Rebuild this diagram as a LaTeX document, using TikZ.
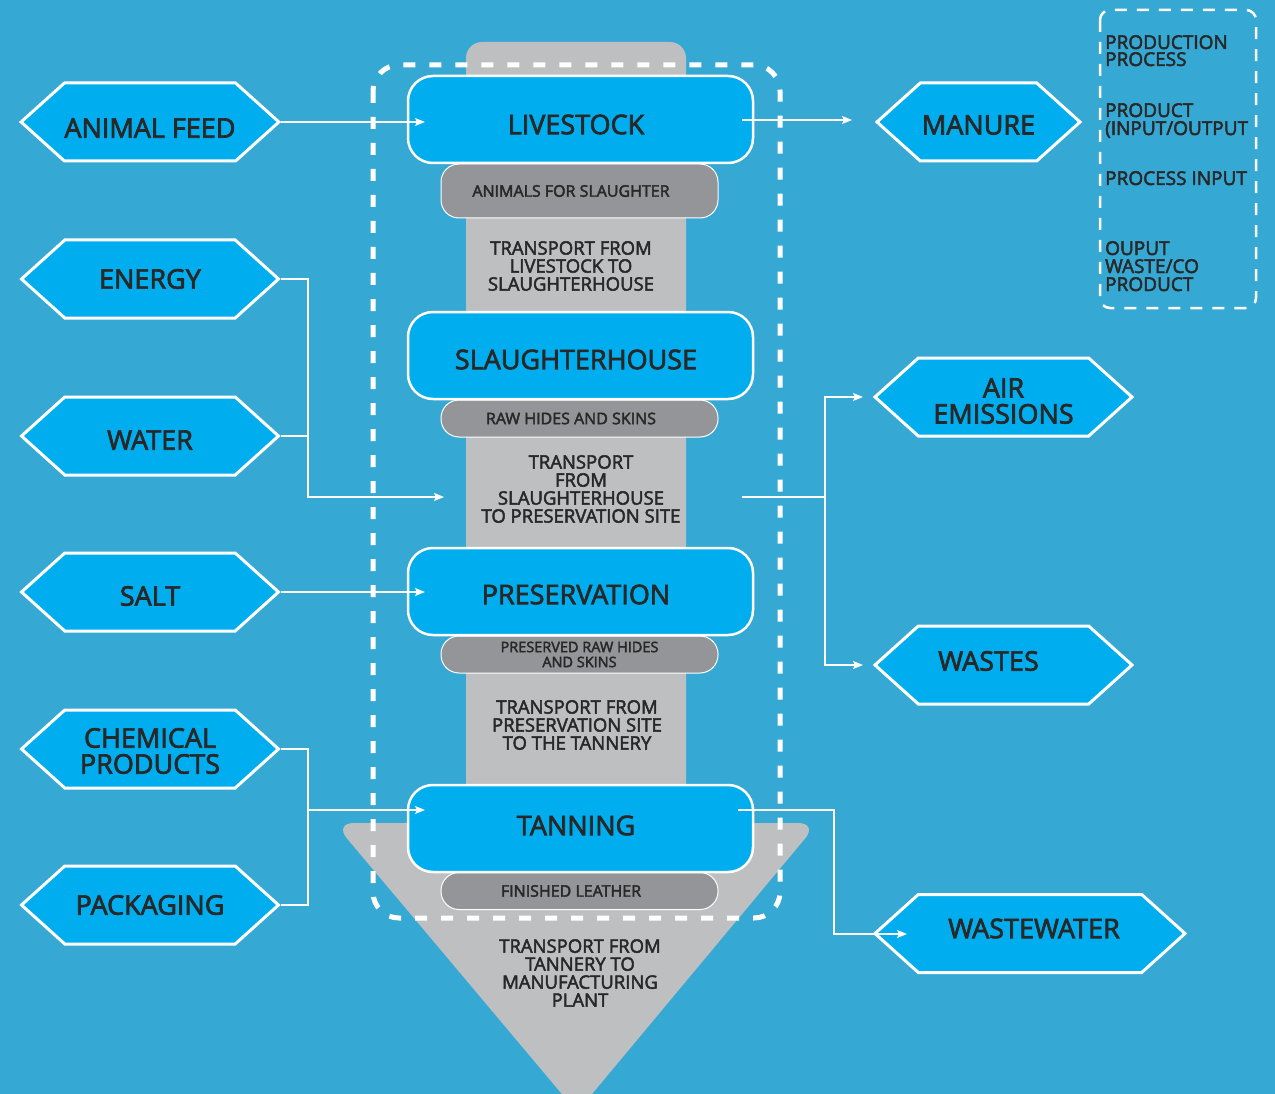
\documentclass[tikz,border=0pt]{standalone}
\usepackage{fontspec}
\setmainfont{Open Sans}
\newfontfamily\semi{Open Sans}[FakeBold=2.6]
\usetikzlibrary{shapes.symbols,arrows.meta}

\definecolor{bgblue}{RGB}{54,168,212}
\definecolor{procblue}{RGB}{0,174,239}
\definecolor{colgray}{RGB}{190,191,193}
\definecolor{pillgray}{RGB}{147,149,152}
\definecolor{ink}{RGB}{40,40,40}

\newcommand{\fs}[2]{\semi\fontsize{#1}{#2}\selectfont}
% lower a label by #1 without changing the size of its box
\newcommand{\dn}[2]{\raisebox{-#1pt}[\height][\depth]{#2}}

\tikzset{
  procbox/.style={draw=white, line width=2.5pt, fill=procblue, rounded corners=25pt,
    minimum width=345pt, minimum height=87pt, text=ink, font=\fs{27}{27}, inner sep=0pt},
  pill/.style={draw=white, line width=1pt, fill=pillgray, rounded corners=18pt,
    minimum width=277pt, text=ink, inner sep=0pt, align=center},
  hexbox/.style={shape=signal, signal to=west and east, signal pointer angle=84,
    draw=white, line width=3pt, fill=procblue, text=ink, font=\fs{27}{26},
    minimum height=78pt, inner sep=0pt, align=center},
  transport/.style={text=ink, font=\fs{18.5}{18}, align=center, inner sep=0pt},
  legendtxt/.style={text=ink, font=\fs{19}{18}, anchor=base west, inner sep=0pt},
  link/.style={draw=white, line width=1.2pt},
  conn/.style={link, -{Stealth[length=10pt, width=8pt, inset=2pt]}},
}

\begin{document}
\begin{tikzpicture}[x=1pt, y=-1pt]
\useasboundingbox (0,0) rectangle (1275,1094);
\fill[bgblue] (0,0) rectangle (1275,1094);

\begin{scope}
\clip (0,0) rectangle (1275,1094);
% grey flow column and the closing arrow head
\fill[colgray, rounded corners=16pt] (466,850) -- (466,42) -- (686,42) -- (686,850) -- cycle;
\fill[colgray, rounded corners=20pt] (334,823) -- (818,823) -- (577,1112) -- cycle;
\end{scope}

% production process frame
\draw[white, line width=5pt, dash pattern=on 12pt off 14pt, rounded corners=26pt]
  (373,65) rectangle (780,918);

% products between processes
\node[pill, minimum height=54pt, font=\fs{16}{16}] (p1) at (579.5,191) {ANIMALS FOR SLAUGHTER\hspace{17pt}};
\node[pill, minimum height=37pt, font=\fs{16}{16}] (p2) at (579.5,418.5) {RAW HIDES AND SKINS\hspace{17pt}};
\node[pill, minimum height=37pt, font=\fs{14.5}{15}] (p3) at (579.5,654.5) {PRESERVED RAW HIDES\hspace{17pt}\\AND SKINS\hspace{17pt}};
\node[pill, minimum height=37pt, font=\fs{16}{16}] (p4) at (579.5,891) {FINISHED LEATHER\hspace{17pt}};

% processes
\node[procbox, align=center] (live)  at (580.5,119.5) {\dn{5}{LIVESTOCK}\hspace{9pt}};
\node[procbox, align=center] (slau)  at (580.5,355.5) {\dn{4}{SLAUGHTERHOUSE}\hspace{9pt}};
\node[procbox, align=center] (pres)  at (580.5,591.5) {\dn{3}{PRESERVATION}\hspace{9pt}};
\node[procbox, align=center] (tan)   at (580.5,828.5) {\dn{-3}{TANNING}\hspace{9pt}};

% transport steps
\node[transport] (t1) at (571,266) {TRANSPORT FROM\\LIVESTOCK TO\\SLAUGHTERHOUSE};
\node[transport] (t2) at (581,489) {TRANSPORT\\FROM\\SLAUGHTERHOUSE\\TO PRESERVATION SITE};
\node[transport] (t3) at (577,725) {TRANSPORT FROM\\PRESERVATION SITE\\TO THE TANNERY};
\node[transport] (t4) at (580,973) {TRANSPORT FROM\\TANNERY TO\\MANUFACTURING\\PLANT};

% process inputs
\node[hexbox, minimum width=257pt] (feed)   at (150,122) {\dn{6}{ANIMAL FEED}};
\node[hexbox, minimum width=257pt] (energy) at (150,279) {ENERGY};
\node[hexbox, minimum width=257pt] (water)  at (150,436) {\dn{4}{WATER}};
\node[hexbox, minimum width=257pt] (salt)   at (150,592) {\dn{4}{SALT}};
\node[hexbox, minimum width=257pt] (chem)   at (150,749) {\dn{2}{CHEMICAL}\\\dn{2}{PRODUCTS}};
\node[hexbox, minimum width=257pt] (pack)   at (150,905) {PACKAGING};

% outputs
\node[hexbox, minimum width=203pt] (manure) at (978.5,122) {\dn{3}{MANURE}};
\node[hexbox, minimum width=257pt] (air)    at (1003.5,397) {\dn{4}{AIR}\\\dn{4}{EMISSIONS}};
\node[hexbox, minimum width=257pt] (wastes) at (1003.5,665) {\dn{-4}{WASTES}\hspace{30pt}};
\node[hexbox, minimum width=310pt] (ww)     at (1030,933.5) {\dn{-5}{WASTEWATER}\hspace{-8pt}};

% connector ends and junctions
\coordinate (liveIn)   at (425,122);
\coordinate (liveOut)  at (742,120);
\coordinate (manIn)    at (852,120);
\coordinate (jEW)      at (308,497);
\coordinate (t2In)     at (444,497);
\coordinate (t2Out)    at (742,497);
\coordinate (jAW)      at (825,497);
\coordinate (airIn)    at (863,397);
\coordinate (wastesIn) at (863,665);
\coordinate (saltIn)   at (425,592);
\coordinate (jCP)      at (308,810);
\coordinate (tanIn)    at (425,810);
\coordinate (tanOut)   at (738,810);
\coordinate (jWW)      at (834,934);
\coordinate (wwIn)     at (907,934);

\draw[conn] (feed.east) -- (liveIn);
\draw[conn] (liveOut) -- (manIn);
\draw[conn] (energy.east) -| (jEW) -- (t2In);
\draw[link] (water.east) -- (water.east -| jEW);
\draw[link] (t2Out) -- (jAW);
\draw[conn] (jAW) |- (airIn);
\draw[conn] (jAW) |- (wastesIn);
\draw[conn] (salt.east) -- (saltIn);
\draw[link] (chem.east) -| (jCP) |- (pack.east);
\draw[conn] (jCP) -- (tanIn);
\draw[conn] (tanOut) -| (jWW) -- (wwIn);

% key
\draw[white, line width=2.5pt, dash pattern=on 12pt off 10pt, rounded corners=10pt]
  (1100,10) rectangle (1256,308);
\node[legendtxt] (k1a) at (1105,49)  {PRODUCTION};
\node[legendtxt] (k1b) at (1105,66)  {PROCESS};
\node[legendtxt] (k2a) at (1105,117) {PRODUCT};
\node[legendtxt] (k2b) at (1105,135) {(INPUT/OUTPUT};
\node[legendtxt] (k3)  at (1105,185) {PROCESS INPUT};
\node[legendtxt] (k4a) at (1105,255) {OUPUT};
\node[legendtxt] (k4b) at (1105,273) {WASTE/CO};
\node[legendtxt] (k4c) at (1105,291) {PRODUCT};
\end{tikzpicture}
\end{document}
